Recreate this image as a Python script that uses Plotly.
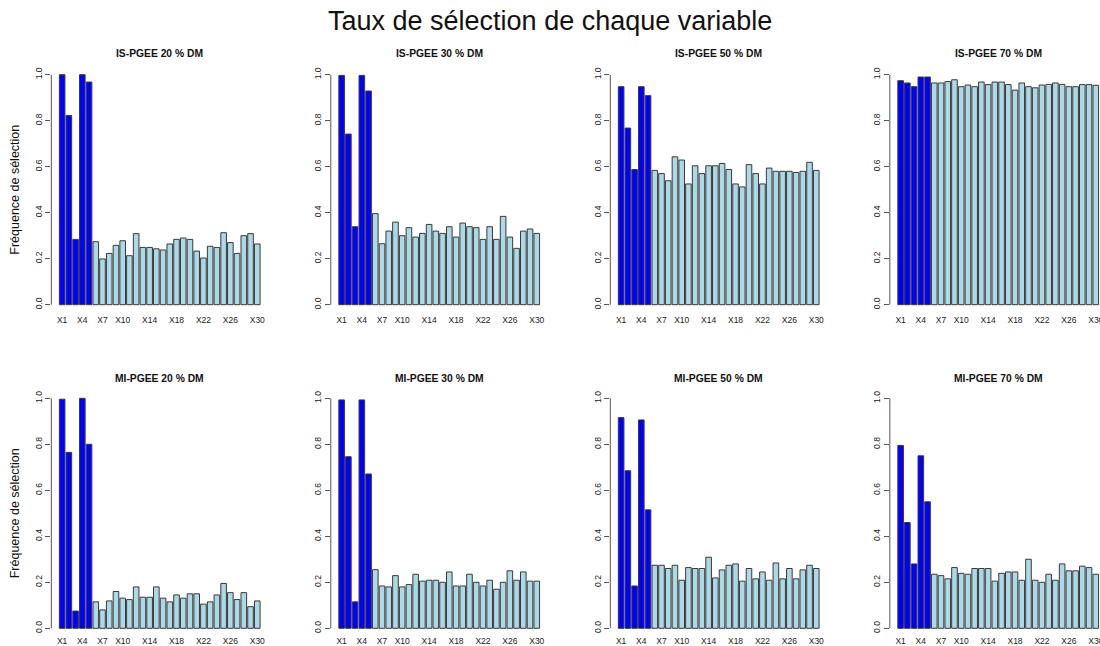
import plotly.graph_objects as go

variables = ["X1", "X2", "X3", "X4", "X5", "X6", "X7", "X8", "X9", "X10",
             "X11", "X12", "X13", "X14", "X15", "X16", "X17", "X18", "X19", "X20",
             "X21", "X22", "X23", "X24", "X25", "X26", "X27", "X28", "X29", "X30"]
shown_labels = ["X1", "X4", "X7", "X10", "X14", "X18", "X22", "X26", "X30"]
n_true = 5  # X1..X5 are the true (blue) variables

titles = ["IS-PGEE 20 % DM", "IS-PGEE 30 % DM", "IS-PGEE 50 % DM", "IS-PGEE 70 % DM",
          "MI-PGEE 20 % DM", "MI-PGEE 30 % DM", "MI-PGEE 50 % DM", "MI-PGEE 70 % DM"]

is_20 = [1.0, 0.823, 0.284, 1.0, 0.968, 0.274, 0.199, 0.223, 0.258, 0.278,
         0.213, 0.309, 0.249, 0.249, 0.243, 0.238, 0.264, 0.284, 0.290, 0.284,
         0.233, 0.203, 0.254, 0.249, 0.313, 0.270, 0.223, 0.300, 0.309, 0.264]
is_30 = [0.997, 0.742, 0.339, 0.997, 0.929, 0.396, 0.265, 0.320, 0.359, 0.300,
         0.335, 0.294, 0.310, 0.349, 0.320, 0.310, 0.339, 0.294, 0.355, 0.339,
         0.335, 0.284, 0.339, 0.284, 0.384, 0.294, 0.245, 0.320, 0.329, 0.310]
is_50 = [0.948, 0.768, 0.588, 0.948, 0.909, 0.584, 0.570, 0.539, 0.643, 0.629,
         0.525, 0.604, 0.570, 0.604, 0.604, 0.614, 0.588, 0.525, 0.512, 0.609,
         0.570, 0.525, 0.594, 0.580, 0.580, 0.580, 0.575, 0.580, 0.619, 0.584]
is_70 = [0.974, 0.964, 0.948, 0.990, 0.990, 0.964, 0.964, 0.970, 0.978, 0.948,
         0.955, 0.948, 0.968, 0.957, 0.968, 0.968, 0.957, 0.933, 0.964, 0.948,
         0.943, 0.955, 0.958, 0.964, 0.958, 0.948, 0.948, 0.957, 0.957, 0.954]
mi_20 = [0.996, 0.765, 0.075, 1.0, 0.800, 0.115, 0.080, 0.119, 0.160, 0.131,
         0.125, 0.180, 0.135, 0.135, 0.180, 0.131, 0.115, 0.145, 0.131, 0.150,
         0.150, 0.105, 0.115, 0.145, 0.195, 0.155, 0.125, 0.155, 0.094, 0.119]
mi_30 = [0.993, 0.746, 0.115, 0.993, 0.671, 0.255, 0.184, 0.180, 0.229, 0.180,
         0.190, 0.235, 0.205, 0.209, 0.209, 0.200, 0.245, 0.184, 0.184, 0.235,
         0.200, 0.184, 0.209, 0.170, 0.200, 0.250, 0.209, 0.245, 0.205, 0.205]
mi_50 = [0.916, 0.685, 0.184, 0.906, 0.515, 0.274, 0.274, 0.260, 0.274, 0.209,
         0.264, 0.260, 0.260, 0.309, 0.219, 0.254, 0.274, 0.280, 0.205, 0.260,
         0.215, 0.245, 0.209, 0.284, 0.215, 0.260, 0.215, 0.254, 0.274, 0.260]
mi_70 = [0.795, 0.460, 0.280, 0.750, 0.550, 0.235, 0.229, 0.215, 0.264, 0.239,
         0.235, 0.260, 0.260, 0.260, 0.205, 0.239, 0.245, 0.245, 0.209, 0.300,
         0.209, 0.200, 0.235, 0.209, 0.280, 0.250, 0.250, 0.270, 0.264, 0.235]

series = [is_20, is_30, is_50, is_70, mi_20, mi_30, mi_50, mi_70]

BLUE = "#0000FF"
LIGHT = "#ADD8E6"
FONT = "Liberation Sans, Arial, Helvetica, sans-serif"
W, H = 1100, 646

col_left_px = [51.3, 330.8, 610.3, 889.8]
plot_w_px = 216.8
row_top_px = [65.5, 389.1]
plot_h_px = 248.4

colors = [BLUE if i < n_true else LIGHT for i in range(len(variables))]

fig = go.Figure()
annotations = []
shapes = []
layout_axes = {}

for k, vals in enumerate(series):
    r, c = divmod(k, 4)
    ax = k + 1
    xname = "x" if ax == 1 else f"x{ax}"
    yname = "y" if ax == 1 else f"y{ax}"
    fig.add_trace(go.Bar(
        x=variables, y=vals, xaxis=xname, yaxis=yname,
        marker=dict(color=colors, line=dict(color="#3a3a3a", width=1)),
        showlegend=False, hoverinfo="x+y",
    ))
    x0 = col_left_px[c] / W
    x1 = min((col_left_px[c] + plot_w_px) / W, 1.0)
    right_px = min(col_left_px[c] + plot_w_px, W)
    # category index range matching R barplot limits (bars width 1, space 0.2)
    left_idx = -1.61
    right_idx = left_idx + (right_px - col_left_px[c]) / plot_w_px * (30.61 + 1.61)
    y1 = 1 - row_top_px[r] / H
    y0 = 1 - (row_top_px[r] + plot_h_px) / H
    layout_axes["xaxis" if ax == 1 else f"xaxis{ax}"] = dict(
        domain=[x0, x1], anchor=yname, type="category",
        range=[left_idx, right_idx],
        tickmode="array", tickvals=shown_labels, ticktext=shown_labels,
        ticks="", showline=False, showgrid=False, zeroline=False,
        tickfont=dict(family=FONT, size=8.5, color="#222"),
        ticklabelstandoff=(0 if r == 0 else -3),
        automargin=False, fixedrange=True,
    )
    layout_axes["yaxis" if ax == 1 else f"yaxis{ax}"] = dict(
        domain=[y0, y1], anchor=xname, range=[-0.04, 1.04],
        tickmode="array", tickvals=[0, 0.2, 0.4, 0.6, 0.8, 1.0],
        ticktext=["0.0", "0.2", "0.4", "0.6", "0.8", "1.0"],
        ticks="outside", ticklen=5, tickcolor="#555", tickwidth=1,
        tickangle=-90, showline=False, showgrid=False, zeroline=False,
        tickfont=dict(family=FONT, size=8.5, color="#222"),
        automargin=False, fixedrange=True,
    )
    shapes.append(dict(type="line", xref=f"{xname} domain", yref=yname,
                       x0=0, x1=0, y0=0, y1=1,
                       line=dict(color="#555", width=1)))
    annotations.append(dict(
        text=f"<b>{titles[k]}</b>", xref="paper", yref="paper",
        x=(col_left_px[c] + plot_w_px / 2) / W,
        y=1 - (54 if r == 0 else 378) / H,
        showarrow=False, xanchor="center", yanchor="middle",
        font=dict(family=FONT, size=10.3, color="#111"),
    ))

for r in range(2):
    annotations.append(dict(
        text="Fréquence de sélection", xref="paper", yref="paper",
        x=15 / W, y=1 - (row_top_px[r] + plot_h_px / 2) / H,
        showarrow=False, textangle=-90, xanchor="center", yanchor="middle",
        font=dict(family=FONT, size=12.5, color="#111"),
    ))

annotations.append(dict(
    text="Taux de sélection de chaque variable", xref="paper", yref="paper",
    x=0.5, y=1 - 21 / H, showarrow=False, xanchor="center", yanchor="middle",
    font=dict(family=FONT, size=27, color="#111"),
))

fig.update_layout(
    width=W, height=H, margin=dict(l=0, r=0, t=0, b=0),
    paper_bgcolor="white", plot_bgcolor="white",
    bargap=1 / 6, annotations=annotations, shapes=shapes,
    **layout_axes,
)

fig.write_html(
    "out.html",
    config={"displayModeBar": False},
    post_script="document.body.style.margin='0';document.body.style.padding='0';document.body.style.overflow='hidden';",
)
